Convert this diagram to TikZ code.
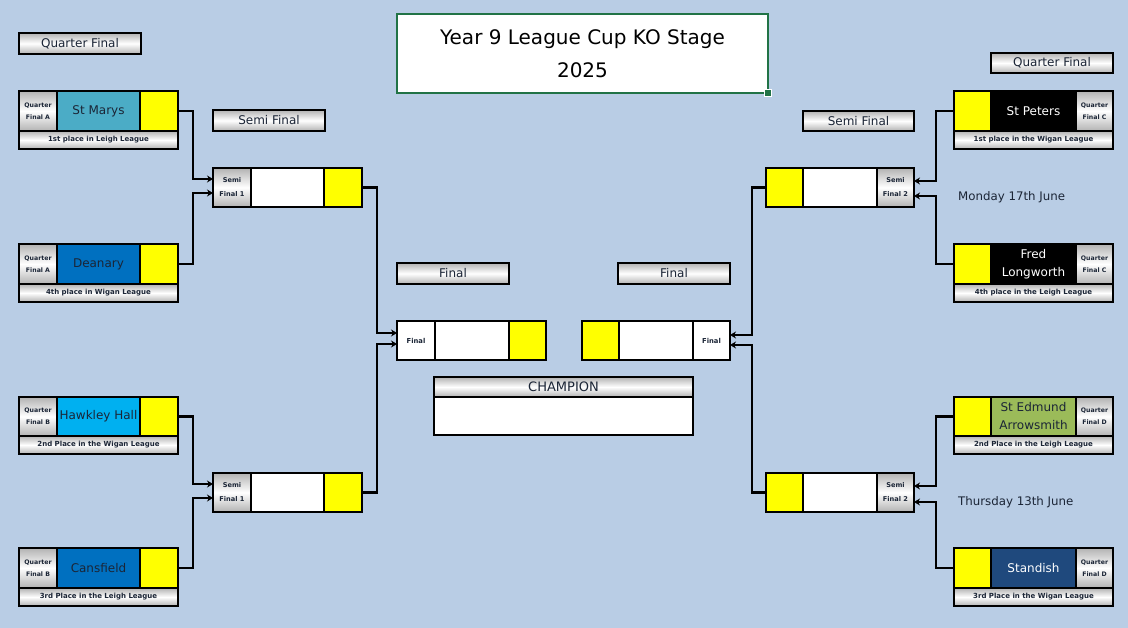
\documentclass[tikz,border=0pt]{standalone}
\usepackage{fontspec}
\setmainfont{DejaVu Sans}
\usetikzlibrary{calc,arrows.meta}
\definecolor{bg}{HTML}{B9CDE5}
\definecolor{ink}{HTML}{1B2536}
\definecolor{xlgreen}{HTML}{217346}
\definecolor{cMarys}{HTML}{4BACC6}
\definecolor{cDean}{HTML}{0070C0}
\definecolor{cHawk}{HTML}{00B0F0}
\definecolor{cCans}{HTML}{0070C0}
\definecolor{cEdm}{HTML}{9BBB59}
\definecolor{cStan}{HTML}{1F497D}
\definecolor{yel}{HTML}{FFFF00}
\newcommand\cell[7]{\node[#6,minimum width={(#4-#2)*1pt},minimum height={(#5-#3)*1pt}] (#1) at ({(#2+#4)/2},{(#3+#5)/2}) {#7};}
\tikzset{
 box/.style={draw=black,line width=2.5pt,inner sep=0pt,outer sep=0pt,align=center,text=ink},
 grad/.style={box,top color=gray!60,bottom color=gray!60,middle color=white},
 lbl/.style={grad,font=\fontsize{6.2}{12}\selectfont\bfseries},
 sub/.style={grad,font=\fontsize{7}{8}\selectfont\bfseries},
 team/.style={box,fill=#1,font=\fontsize{12}{18}\selectfont},
 yelbox/.style={box,fill=yel},
 wbox/.style={box,fill=white},
 wlbl/.style={box,fill=white,font=\fontsize{6.8}{14}\selectfont\bfseries},
 bar/.style={grad,font=\fontsize{12}{14}\selectfont},
 conn/.style={line width=2.5pt,line join=miter,-{Stealth[length=6pt,width=7pt]}},
 datelbl/.style={font=\fontsize{11.8}{13}\selectfont,text=ink,inner sep=0pt},
}
\begin{document}
\begin{tikzpicture}[x=1pt,y=-1pt]
\fill[bg] (0,0) rectangle (1128,628);
\useasboundingbox (0,0) rectangle (1128,628);

% title
\node[draw=xlgreen,line width=2pt,fill=white,inner sep=0pt,align=center,text=black,
  minimum width=371pt,minimum height=79pt,font=\fontsize{20}{33}\selectfont]
  (title) at (582.5,53.5) {Year 9 League Cup KO Stage\\2025};
\fill[xlgreen,draw=white,line width=0.6pt] (764,89) rectangle (771,96);

% stage bars
\cell{bqfl}{19}{33}{141}{54}{bar}{Quarter Final}
\cell{bqfr}{991}{53}{1113}{73}{bar}{Quarter Final}
\cell{bsfl}{213}{110}{325}{131}{bar}{Semi Final}
\cell{bsfr}{803}{111}{914}{131}{bar}{Semi Final}
\cell{bfl}{397}{263}{509}{284}{bar}{Final}
\cell{bfr}{618}{263}{730}{284}{bar}{Final}

% left quarter finals
\cell{qa1l}{19}{91}{57}{131}{lbl}{Quarter\\Final A}
\cell{qa1t}{57}{91}{140}{131}{team=cMarys}{St Marys}
\cell{qa1y}{140}{91}{178}{131}{yelbox}{}
\cell{qa1s}{19}{131}{178}{149}{sub}{1st place in Leigh League}

\cell{qa2l}{19}{244}{57}{284}{lbl}{Quarter\\Final A}
\cell{qa2t}{57}{244}{140}{284}{team=cDean}{Deanary}
\cell{qa2y}{140}{244}{178}{284}{yelbox}{}
\cell{qa2s}{19}{284}{178}{302}{sub}{4th place in Wigan League}

\cell{qb1l}{19}{397}{57}{436}{lbl}{Quarter\\Final B}
\cell{qb1t}{57}{397}{140}{436}{team=cHawk}{Hawkley Hall}
\cell{qb1y}{140}{397}{178}{436}{yelbox}{}
\cell{qb1s}{19}{436}{178}{454}{sub}{2nd Place in the Wigan League}

\cell{qb2l}{19}{548}{57}{588}{lbl}{Quarter\\Final B}
\cell{qb2t}{57}{548}{140}{588}{team=cCans}{Cansfield}
\cell{qb2y}{140}{548}{178}{588}{yelbox}{}
\cell{qb2s}{19}{588}{178}{606}{sub}{3rd Place in the Leigh League}

% right quarter finals
\cell{qc1y}{954}{91}{991}{131}{yelbox}{}
\cell{qc1t}{991}{91}{1076}{131}{team=black,text=white}{St Peters}
\cell{qc1l}{1076}{91}{1113}{131}{lbl}{Quarter\\Final C}
\cell{qc1s}{954}{131}{1113}{149}{sub}{1st place in the Wigan League}

\cell{qc2y}{954}{244}{991}{284}{yelbox}{}
\cell{qc2t}{991}{244}{1076}{284}{team=black,text=white}{Fred\\Longworth}
\cell{qc2l}{1076}{244}{1113}{284}{lbl}{Quarter\\Final C}
\cell{qc2s}{954}{284}{1113}{302}{sub}{4th place in the Leigh League}

\cell{qd1y}{954}{397}{991}{436}{yelbox}{}
\cell{qd1t}{991}{397}{1076}{436}{team=cEdm}{St Edmund\\Arrowsmith}
\cell{qd1l}{1076}{397}{1113}{436}{lbl}{Quarter\\Final D}
\cell{qd1s}{954}{436}{1113}{454}{sub}{2nd Place in the Leigh League}

\cell{qd2y}{954}{548}{991}{588}{yelbox}{}
\cell{qd2t}{991}{548}{1076}{588}{team=cStan,text=white}{Standish}
\cell{qd2l}{1076}{548}{1113}{588}{lbl}{Quarter\\Final D}
\cell{qd2s}{954}{588}{1113}{606}{sub}{3rd Place in the Wigan League}

% semi finals
\cell{s1l}{213}{168}{251}{207}{lbl,font=\fontsize{6.6}{14}\selectfont\bfseries}{Semi\\Final 1}
\cell{s1w}{251}{168}{324}{207}{wbox}{}
\cell{s1y}{324}{168}{362}{207}{yelbox}{}

\cell{s3l}{213}{473}{251}{512}{lbl,font=\fontsize{6.6}{14}\selectfont\bfseries}{Semi\\Final 1}
\cell{s3w}{251}{473}{324}{512}{wbox}{}
\cell{s3y}{324}{473}{362}{512}{yelbox}{}

\cell{s2y}{766}{168}{803}{207}{yelbox}{}
\cell{s2w}{803}{168}{877}{207}{wbox}{}
\cell{s2l}{877}{168}{914}{207}{lbl,font=\fontsize{6.6}{14}\selectfont\bfseries}{Semi\\Final 2}

\cell{s4y}{766}{473}{803}{512}{yelbox}{}
\cell{s4w}{803}{473}{877}{512}{wbox}{}
\cell{s4l}{877}{473}{914}{512}{lbl,font=\fontsize{6.6}{14}\selectfont\bfseries}{Semi\\Final 2}

% finals
\cell{fll}{397}{321}{435}{360}{wlbl}{Final}
\cell{flw}{435}{321}{509}{360}{wbox}{}
\cell{fly}{509}{321}{546}{360}{yelbox}{}

\cell{fry}{582}{321}{619}{360}{yelbox}{}
\cell{frw}{619}{321}{693}{360}{wbox}{}
\cell{frl}{693}{321}{730}{360}{wlbl}{Final}

% champion
\cell{ch}{434}{377}{693}{397}{bar,font=\fontsize{13}{14}\selectfont}{CHAMPION}
\cell{chb}{434}{397}{693}{435}{wbox}{}

% dates
\node[datelbl,anchor=west] (d1) at (958,197) {Monday 17th June};
\node[datelbl,anchor=west] (d2) at (958,502) {Thursday 13th June};

% connectors left
\draw[conn] (qa1y.east) -| ($(s1l.west)+(-20,-8.5)$) -- ($(s1l.west)+(0,-8.5)$);
\draw[conn] (qa2y.east) -| ($(s1l.west)+(-20,5.5)$) -- ($(s1l.west)+(0,5.5)$);
\draw[conn] (qb1y.east) -| ($(s3l.west)+(-20,-8.5)$) -- ($(s3l.west)+(0,-8.5)$);
\draw[conn] (qb2y.east) -| ($(s3l.west)+(-20,5.5)$) -- ($(s3l.west)+(0,5.5)$);
\draw[conn] (s1y.east) -| ($(fll.west)+(-20,-7.5)$) -- ($(fll.west)+(0,-7.5)$);
\draw[conn] (s3y.east) -| ($(fll.west)+(-20,3.5)$) -- ($(fll.west)+(0,3.5)$);

% connectors right
\draw[conn] (qc1y.west) -| ($(s2l.east)+(22,-6.5)$) -- ($(s2l.east)+(0,-6.5)$);
\draw[conn] (qc2y.west) -| ($(s2l.east)+(22,8.5)$) -- ($(s2l.east)+(0,8.5)$);
\draw[conn] (qd1y.west) -| ($(s4l.east)+(22,-6.5)$) -- ($(s4l.east)+(0,-6.5)$);
\draw[conn] (qd2y.west) -| ($(s4l.east)+(22,9.5)$) -- ($(s4l.east)+(0,9.5)$);
\draw[conn] (s2y.west) -| ($(frl.east)+(22,-5.5)$) -- ($(frl.east)+(0,-5.5)$);
\draw[conn] (s4y.west) -| ($(frl.east)+(22,4.5)$) -- ($(frl.east)+(0,4.5)$);
\end{tikzpicture}
\end{document}
